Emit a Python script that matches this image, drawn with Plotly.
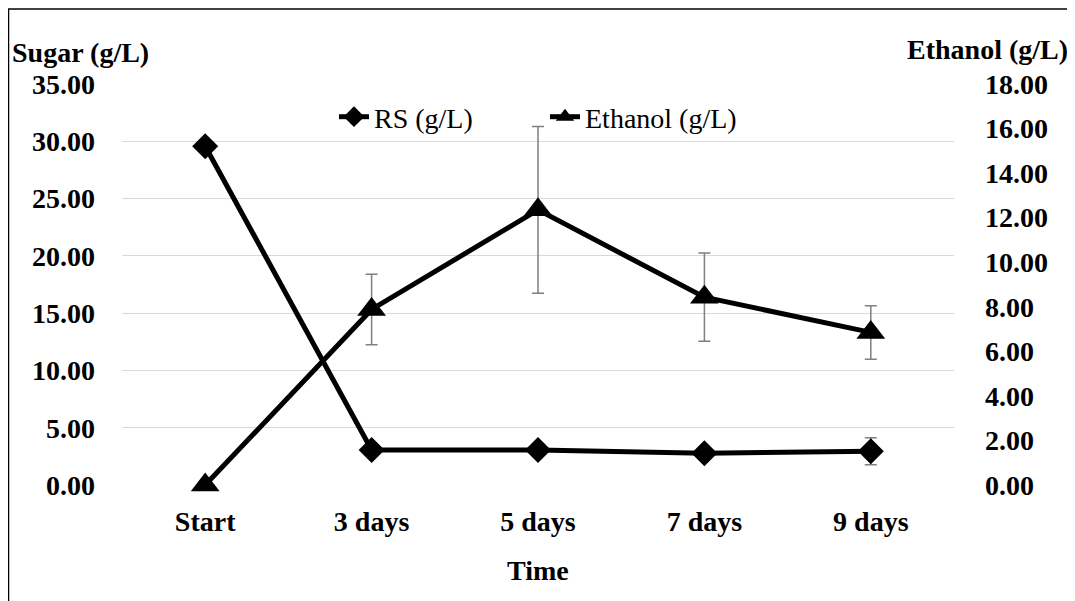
import plotly.graph_objects as go

categories = ["Start", "3 days", "5 days", "7 days", "9 days"]
rs_values = [29.57, 3.06, 3.06, 2.77, 2.95]
rs_errors = [0, 0, 0, 0, 1.18]
ethanol_values = [0.0, 7.88, 12.35, 8.43, 6.85]
ethanol_errors = [0, 1.58, 3.74, 1.98, 1.2]

left_ticks = [0, 5, 10, 15, 20, 25, 30, 35]
right_ticks = [0, 2, 4, 6, 8, 10, 12, 14, 16, 18]

FONT = "Liberation Serif, Times New Roman, serif"
FS = 28
BOLD = dict(family=FONT, size=FS, color="black", weight="bold")

# figure-space geometry (page has an 8px body margin)
W, H = 1067, 593
PL, PR, PT, PB = 114, 946, 76, 477
PW, PH = PR - PL, PB - PT


def px(x):
    return (x - PL) / PW


def py(y):
    return (PB - y) / PH


fig = go.Figure()
fig.add_trace(go.Scatter(
    x=categories, y=rs_values, name="RS (g/L)", mode="lines+markers",
    line=dict(color="black", width=5),
    marker=dict(symbol="diamond", size=20, color="black"),
    error_y=dict(type="data", array=rs_errors, color="#7f7f7f", thickness=1.5, width=6),
    cliponaxis=False, yaxis="y"))
fig.add_trace(go.Scatter(
    x=categories, y=ethanol_values, name="Ethanol (g/L)", mode="lines+markers",
    line=dict(color="black", width=5),
    marker=dict(symbol="triangle-up", size=25, color="black"),
    error_y=dict(type="data", array=ethanol_errors, color="#7f7f7f", thickness=1.5, width=6),
    cliponaxis=False, yaxis="y2"))

fig.update_layout(
    width=W, height=H,
    margin=dict(l=PL, r=W - PR, t=PT, b=H - PB),
    paper_bgcolor="white", plot_bgcolor="white",
    font=dict(family=FONT, size=FS, color="black"),
    showlegend=True,
    legend=dict(orientation="h", x=px(326), xanchor="left", y=py(109), yanchor="middle",
                font=dict(family=FONT, size=FS, color="black"), bgcolor="rgba(0,0,0,0)",
                itemwidth=30, entrywidth=166, entrywidthmode="pixels"),
    xaxis=dict(type="category", range=[-0.5, 4.5], showgrid=False, zeroline=False,
               showline=False, ticks="", tickfont=BOLD, ticklabelstandoff=17),
    yaxis=dict(range=[0, 35], tickvals=left_ticks, tickformat=".2f", showgrid=True,
               gridcolor="#d9d9d9", gridwidth=1.3, zeroline=False, showline=False,
               ticks="", tickfont=BOLD, ticklabelstandoff=26),
    yaxis2=dict(range=[0, 18], tickvals=right_ticks, tickformat=".2f", overlaying="y",
                side="right", showgrid=False, zeroline=False, showline=False, ticks="",
                tickfont=BOLD, ticklabelstandoff=30),
    annotations=[
        dict(text="Sugar (g/L)", xref="paper", yref="paper", x=px(2), y=py(44),
             xanchor="left", yanchor="middle", showarrow=False, font=BOLD),
        dict(text="Ethanol (g/L)", xref="paper", yref="paper", x=px(1062), y=py(42),
             xanchor="right", yanchor="middle", showarrow=False, font=BOLD),
        dict(text="Time", xref="paper", yref="paper", x=0.5, y=py(562),
             xanchor="center", yanchor="middle", showarrow=False, font=BOLD),
    ],
    shapes=[
        dict(type="line", xref="paper", yref="paper", x0=px(0), x1=px(1075),
             y0=py(1), y1=py(1), line=dict(color="black", width=1.5)),
        dict(type="line", xref="paper", yref="paper", x0=px(0.5), x1=px(0.5),
             y0=py(1), y1=py(600), line=dict(color="black", width=1.5)),
    ],
)

fig.write_html("out.html")
